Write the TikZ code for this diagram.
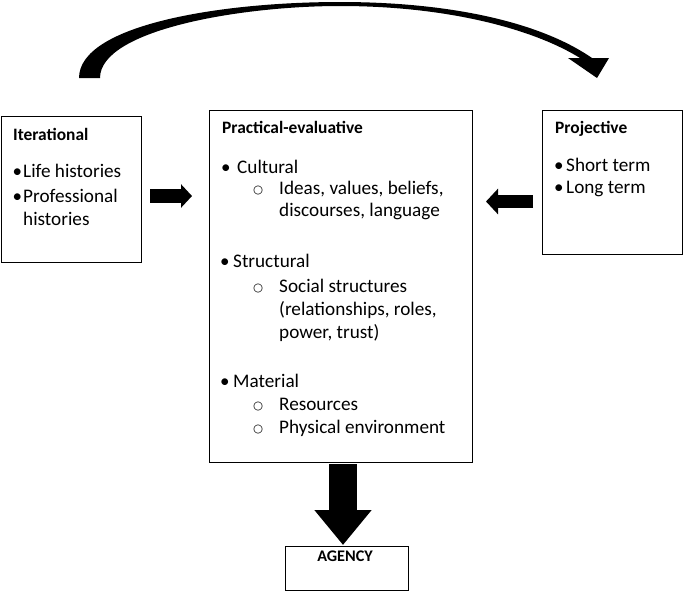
\documentclass[tikz,border=0pt]{standalone}
\usepackage{fontspec}
\setmainfont{Carlito}
\newfontfamily\ringfont{DejaVu Sans}
\usetikzlibrary{arrows.meta}

\begin{document}
\begin{tikzpicture}[x=1pt,y=-1pt,
    box/.style={draw, line width=0.9pt, inner sep=0pt, anchor=north west},
    head/.style={anchor=base west, inner sep=0pt, font=\bfseries\fontsize{17.4}{21}\selectfont},
    txt/.style={anchor=base west, inner sep=0pt, font=\fontsize{19.2}{23}\selectfont},
    bul/.style={anchor=base west, inner sep=0pt, font=\fontsize{19}{23}\selectfont},
    ring/.style={anchor=base west, inner sep=0pt, font=\ringfont\fontsize{11.5}{23}\selectfont}]
\useasboundingbox (0,0) rectangle (685,590);

% boxes
\node[box, minimum width=140.5pt, minimum height=146pt] (iter) at (0.5,116) {};
\node[box, minimum width=263pt, minimum height=352pt] (prac) at (209,110) {};
\node[box, minimum width=140pt, minimum height=144pt] (proj) at (542,110) {};
\node[box, minimum width=123pt, minimum height=44pt] (agency) at (285,546) {};

% iterational
\node[head] (iterT) at (13,140) {Iterational};
\node[bul] (iterB1) at (12.5,177) {\textbullet};
\node[txt] (iter1) at (23,177) {Life histories};
\node[bul] (iterB2) at (12.5,202) {\textbullet};
\node[txt] (iter2) at (23,202) {Professional};
\node[txt] (iter3) at (23,225) {histories};

% practical-evaluative
\node[head] (pracT) at (222,133) {Practical-evaluative};
\node[bul] (pracB1) at (221,173) {\textbullet};
\node[txt] (prac1) at (237,173) {Cultural};
\node[ring] (pracR1) at (253,193) {○};
\node[txt] (prac2) at (279,194) {Ideas, values, beliefs,};
\node[txt] (prac3) at (279,216) {discourses, language};
\node[bul] (pracB2) at (220,267) {\textbullet};
\node[txt] (prac4) at (233,267) {Structural};
\node[ring] (pracR2) at (253,291) {○};
\node[txt] (prac5) at (279,292) {Social structures};
\node[txt] (prac6) at (279,315) {(relationships, roles,};
\node[txt] (prac7) at (279,338) {power, trust)};
\node[bul] (pracB3) at (220,387) {\textbullet};
\node[txt] (prac8) at (233,387) {Material};
\node[ring] (pracR3) at (253,409) {○};
\node[txt] (prac9) at (279,410) {Resources};
\node[ring] (pracR4) at (253,432) {○};
\node[txt] (prac10) at (279,433) {Physical environment};

% projective
\node[head] (projT) at (555,133) {Projective};
\node[bul] (projB1) at (554,171) {\textbullet};
\node[txt] (proj1) at (566,171) {Short term};
\node[bul] (projB2) at (554,193) {\textbullet};
\node[txt] (proj2) at (566,193) {Long term};

\node[head, anchor=base, font=\bfseries\fontsize{16.2}{20}\selectfont] (agencyT) at (345,561) {AGENCY};

% block arrows
\coordinate (iterOut) at (150,196);
\coordinate (pracInL) at (192,196);
\coordinate (projOut) at (533,201.5);
\coordinate (pracInR) at (486,201.5);
\coordinate (pracOut) at (343,464);
\coordinate (agencyIn) at (343,545);
\draw[line width=14pt, -{Triangle[length=11pt,width=23pt]}] (iterOut) -- (pracInL);
\draw[line width=13pt, -{Triangle[length=12pt,width=25pt]}] (projOut) -- (pracInR);
\draw[line width=28pt, -{Triangle[length=35pt,width=55pt]}] (pracOut) -- (agencyIn);

% curved arrow over the top
\fill (79,78) .. controls (79,25) and (220,2) .. (340,2)
  .. controls (450,2) and (540,22) .. (592,58)
  -- (609,58) -- (597,78) -- (568,58) -- (580,58)
  .. controls (535,30) and (450,6) .. (340,6)
  .. controls (240,6) and (100,30) .. (100,78) -- cycle;
\end{tikzpicture}
\end{document}
